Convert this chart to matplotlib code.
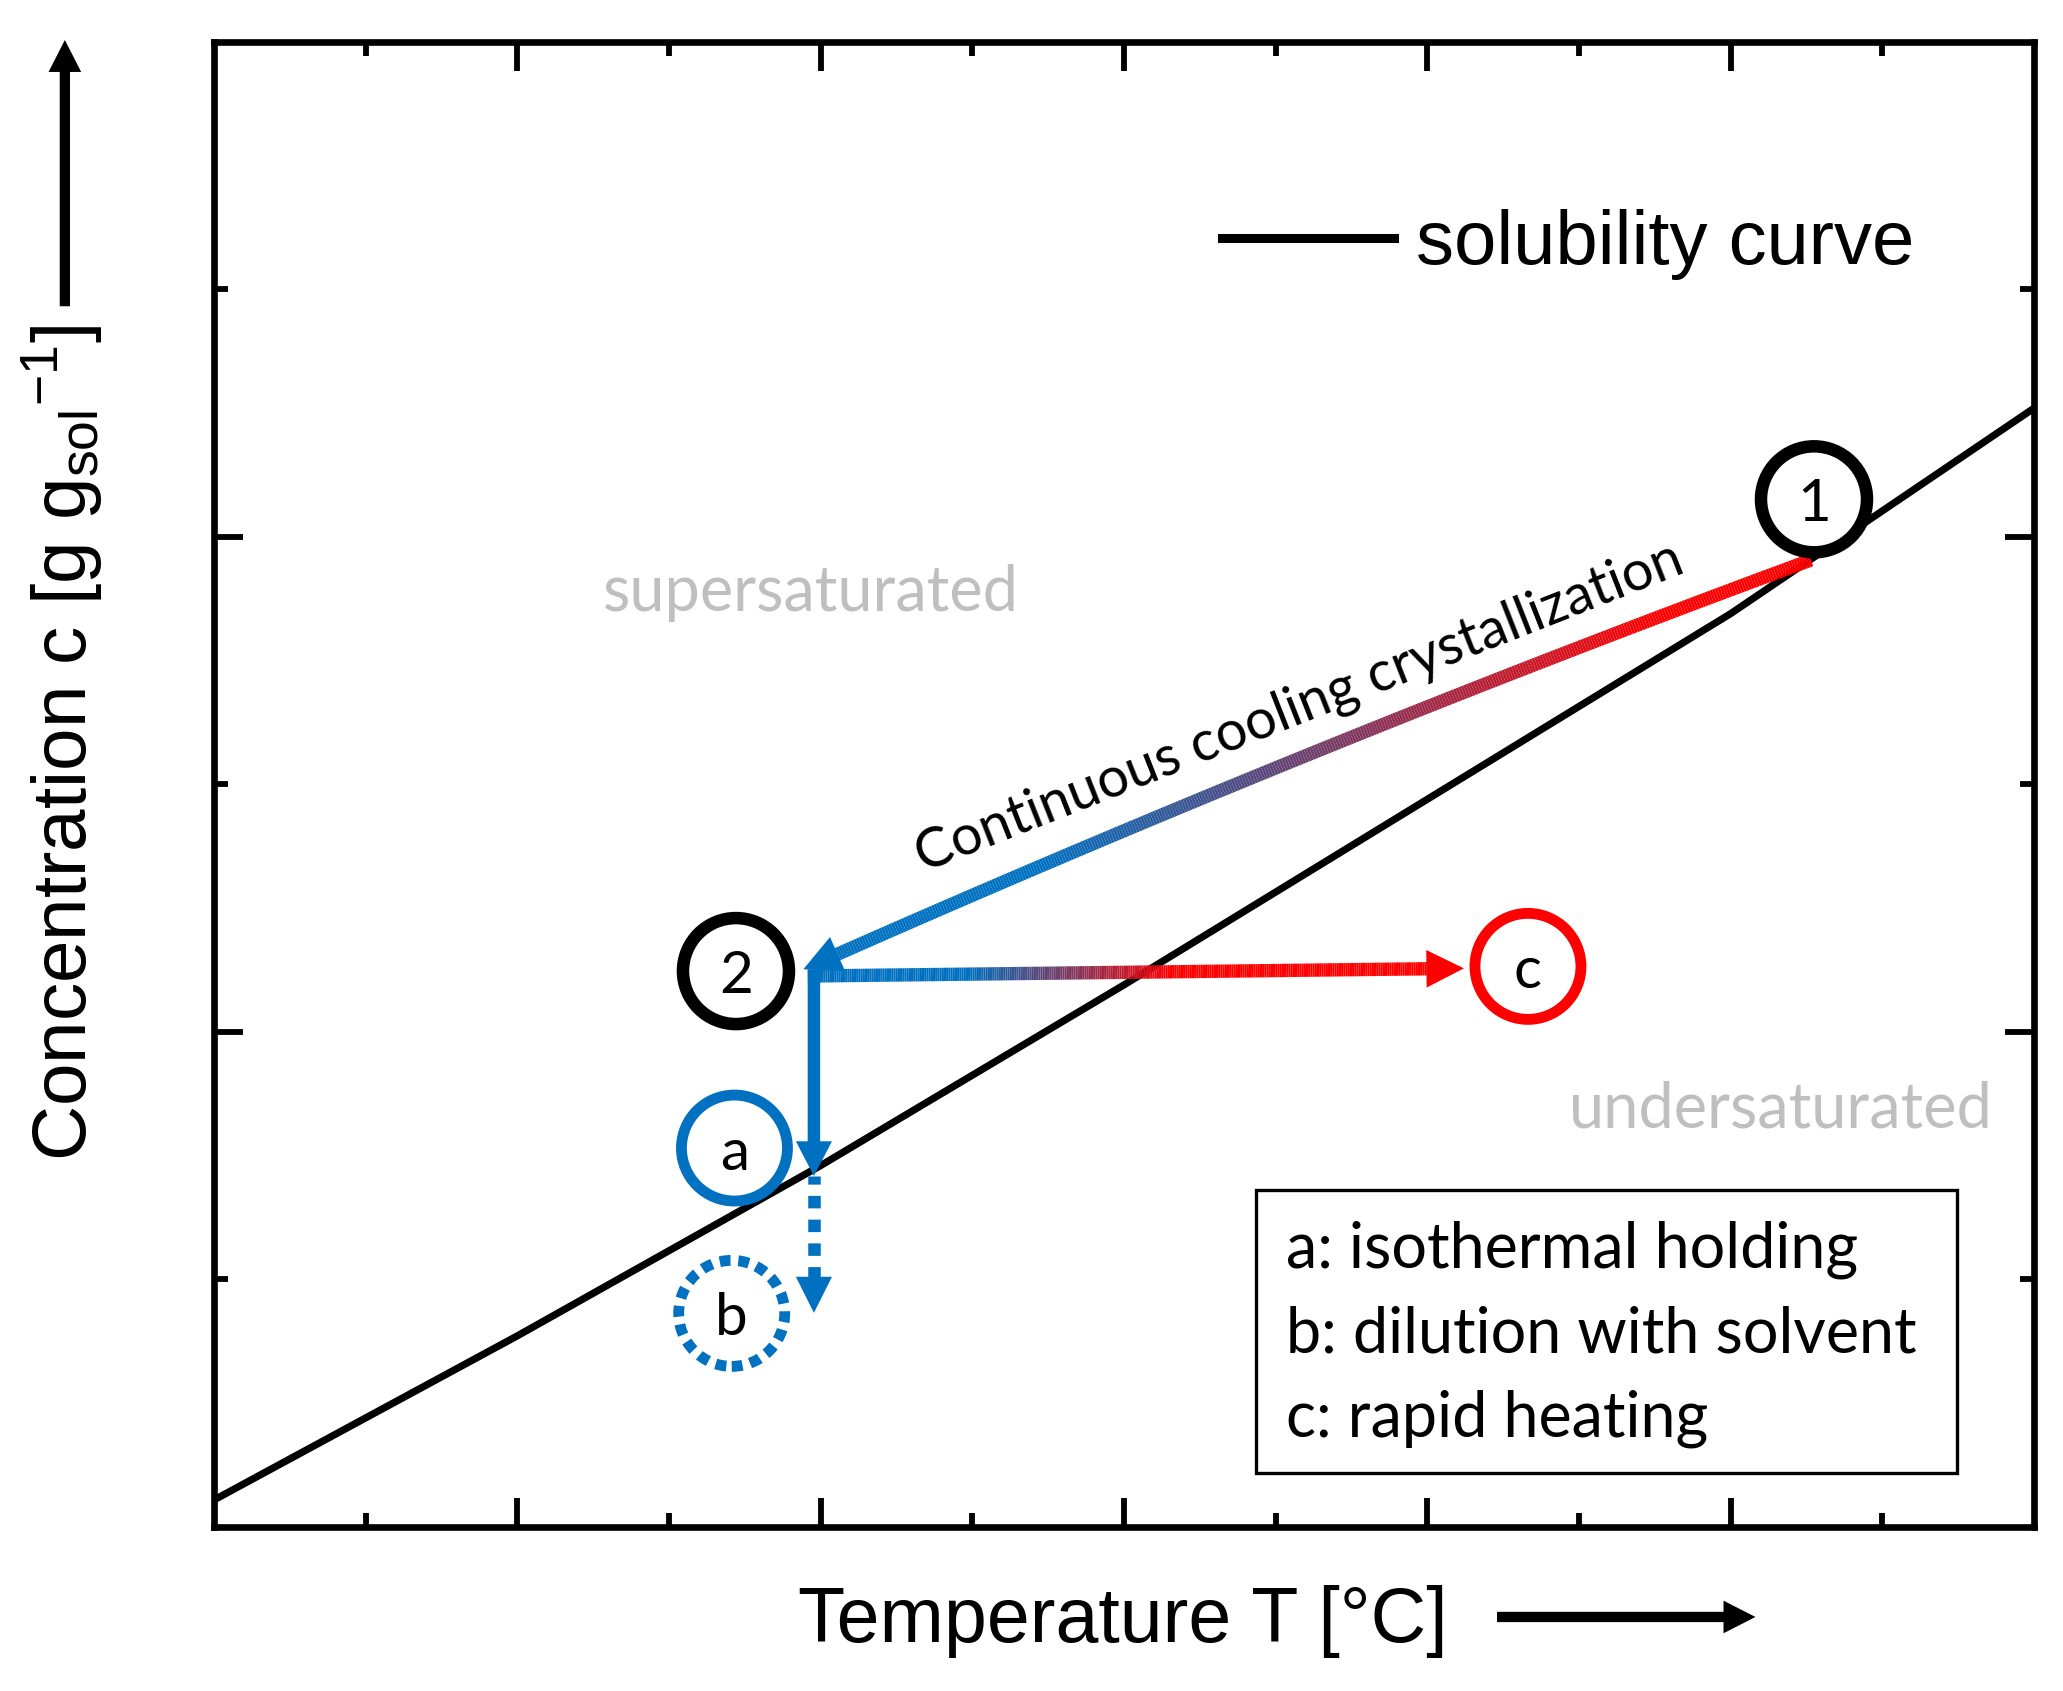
import numpy as np
import matplotlib.pyplot as plt
from matplotlib.collections import LineCollection
from matplotlib.colors import LinearSegmentedColormap
from matplotlib.patches import Circle, Rectangle, FancyArrowPatch
from matplotlib.transforms import ScaledTranslation

plt.rcParams['font.family'] = ['Liberation Sans', 'DejaVu Sans']
plt.rcParams['mathtext.default'] = 'regular'

BLUE = '#0070C0'
RED = '#FF0000'
CAL = ['Lato', 'DejaVu Sans']   # stand-in for Calibri

# solubility curve (arbitrary units)
sol_T = [0.0, 1.0, 2.0, 3.0, 4.0, 5.0, 6.0]
sol_c = [0.109, 0.772, 1.46, 2.19, 2.94, 3.69, 4.52]

# state points
state_names = ['1', '2', 'a', 'b', 'c']
state_T = [5.275, 1.721, 1.716, 1.707, 4.332]
state_c = [4.152, 2.246, 1.531, 0.863, 2.265]
state_colors = ['black', 'black', BLUE, BLUE, RED]
state_dotted = [False, False, False, True, False]

# process paths
cool_T = [5.265, 3.59, 1.943]     # start, bend, end (1 -> 2)
cool_c = [3.907, 3.15, 2.253]
heat_T = [1.958, 4.121]           # 2 -> c
heat_c = [2.226, 2.257]
hold_T = [1.978, 1.978]           # 2 -> a
hold_c = [2.25, 1.418]
dilute_T = [1.978, 1.978]         # a -> b
dilute_c = [1.418, 0.865]

box_lines = ['a: isothermal holding', 'b: dilution with solvent', 'c: rapid heating']

fig = plt.figure(figsize=(20.63, 16.91), dpi=100)
ax = fig.add_axes([0.1037, 0.0970, 0.8822, 0.8782])
ax.set_xlim(0, 6)
ax.set_ylim(0, 6)

for s in ax.spines.values():
    s.set_linewidth(4.8)
ax.set_xticks([1, 2, 3, 4, 5])
ax.set_xticks(np.arange(0.5, 6, 1.0), minor=True)
ax.set_yticks([2, 4])
ax.set_yticks([1, 3, 5], minor=True)
ax.tick_params(which='both', direction='in', top=True, right=True,
               labelbottom=False, labelleft=False, width=4.2)
ax.tick_params(which='major', length=21)
ax.tick_params(which='minor', length=10)

ax.set_xlabel('Temperature T [°C]', fontsize=55.5, va='baseline')
ax.xaxis.set_label_coords(0.4995, -0.0774)
ax.set_ylabel(r'Concentration c [g g$_{sol}$$^{-1}$]', fontsize=55, va='baseline')
ax.yaxis.set_label_coords(-0.0698, 0.528)

# direction arrows next to the axis labels
ax_arrow = dict(arrowstyle='simple,head_length=23,head_width=23.5,tail_width=7.4',
                mutation_scale=1, fc='black', ec='none', lw=0, shrinkA=0, shrinkB=0)
ax.annotate('', xy=(0.847, -0.0606), xytext=(0.705, -0.0606), xycoords='axes fraction',
            arrowprops=ax_arrow, annotation_clip=False)
ax.annotate('', xy=(-0.0819, 1.0013), xytext=(-0.0819, 0.822), xycoords='axes fraction',
            arrowprops=ax_arrow, annotation_clip=False)

# solubility curve + legend
ax.plot(sol_T, sol_c, color='black', lw=5.2, label='solubility curve', zorder=2)
leg = ax.legend(loc='center left', bbox_to_anchor=(0.5538, 0.8633), frameon=False,
                borderpad=0, borderaxespad=0, handlelength=2.26, handletextpad=0.3,
                prop={'family': 'Liberation Sans', 'size': 54.7})
leg.get_lines()[0].set_linewidth(6.5)


def trim(T, c, px):
    # points of a path, minus its last px pixels
    xy = ax.transData.transform(np.column_stack([T, c]))
    d = np.r_[0, np.cumsum(np.hypot(*np.diff(xy, axis=0).T))]
    keep = d <= d[-1] - px
    return np.asarray(T)[keep], np.asarray(c)[keep]


def gradient_line(T, c, cmap, lw=9.6):
    pts = np.column_stack([T, c]).reshape(-1, 1, 2)
    segs = np.concatenate([pts[:-1], pts[1:]], axis=1)
    lc = LineCollection(segs, cmap=cmap, linewidths=lw, capstyle='butt', zorder=4)
    lc.set_array(np.linspace(0, 1, len(segs)))
    lc.set_clim(0, 1)
    ax.add_collection(lc)


def head(p0, p1, color, hl=25, hw=24):
    ax.add_patch(FancyArrowPatch(p0, p1, arrowstyle=f'-|>,head_length={hl},head_width={hw / 2}',
                                 mutation_scale=1, fc=color, ec='none', lw=0,
                                 shrinkA=0, shrinkB=0, zorder=5))


# 1 -> 2: continuous cooling (slightly bent, red to blue)
t = np.linspace(0, 1, 400)
bT = (1 - t) ** 2 * cool_T[0] + 2 * (1 - t) * t * cool_T[1] + t ** 2 * cool_T[2]
bc = (1 - t) ** 2 * cool_c[0] + 2 * (1 - t) * t * cool_c[1] + t ** 2 * cool_c[2]
cool_cmap = LinearSegmentedColormap.from_list('cool', [(0, RED), (0.15, RED), (0.78, BLUE), (1, BLUE)])
gT, gc = trim(bT, bc, 22)
gradient_line(gT, gc, cool_cmap)
hT, hc = trim(bT, bc, 60)
head((hT[-1], hc[-1]), (bT[-1], bc[-1]), BLUE, hl=27, hw=27)

# 2 -> c: rapid heating (blue to red)
lT = np.linspace(heat_T[0], heat_T[1], 300)
lc_ = np.linspace(heat_c[0], heat_c[1], 300)
heat_cmap = LinearSegmentedColormap.from_list('heat', [(0, BLUE), (0.25, BLUE), (0.58, RED), (1, RED)])
gT, gc = trim(lT, lc_, 22)
gradient_line(gT, gc, heat_cmap)
hT, hc = trim(lT, lc_, 60)
head((hT[-1], hc[-1]), (heat_T[1], heat_c[1]), RED, hl=27, hw=27)

# 2 -> a: isothermal holding
ax.add_patch(FancyArrowPatch((hold_T[0], hold_c[0]), (hold_T[1], hold_c[1]),
                             arrowstyle='simple,head_length=25,head_width=26,tail_width=9',
                             mutation_scale=1, fc=BLUE, ec='none', lw=0,
                             shrinkA=0, shrinkB=0, zorder=5))

# a -> b: dilution (dotted)
dT = np.linspace(dilute_T[0], dilute_T[1], 200)
dc = np.linspace(dilute_c[0], dilute_c[1], 200)
sT, sc = trim(dT, dc, 30)
ax.plot(sT, sc, color=BLUE, lw=9, linestyle=(0.35, (1, 0.9)),
        dash_capstyle='butt', zorder=4)
hT, hc = trim(dT, dc, 70)
head((hT[-1], hc[-1]), (dilute_T[1], dilute_c[1]), BLUE, hl=26, hw=26)

# state circles (round on screen, so sized in inches)
for name, T, c, col, dotted in zip(state_names, state_T, state_c, state_colors, state_dotted):
    tr = fig.dpi_scale_trans + ScaledTranslation(T, c, ax.transData)
    lw = 9 if col == 'black' else 7.8
    circ = Circle((0, 0), 0.53, transform=tr, fc='white', ec=col, lw=lw, zorder=6,
                  linestyle=(0, (1, 0.72)) if dotted else '-')
    if dotted:
        circ.set_capstyle('butt')
    ax.add_patch(circ)
    ax.text(T, c, name, ha='center', va='center_baseline', family=CAL, fontsize=42, zorder=7)

ax.text(3.597, 3.253, 'Continuous cooling crystallization', rotation=21.5,
        rotation_mode='anchor', ha='center', va='baseline', family=CAL, fontsize=40, zorder=6)
ax.text(1.968, 3.70, 'supersaturated', ha='center', va='baseline', family=CAL,
        fontsize=45.4, color='#BFBFBF')
ax.text(5.165, 1.616, 'undersaturated', ha='center', va='baseline', family=CAL,
        fontsize=45.4, color='#BFBFBF')

# explanation box
ax.add_patch(Rectangle((0.5725, 0.0364), 0.3852, 0.1905, transform=ax.transAxes,
                       fc='white', ec='black', lw=2.4, zorder=3))
for line, yb in zip(box_lines, [0.1744, 0.1172, 0.0606]):
    ax.text(0.589, yb, line, transform=ax.transAxes, ha='left', va='baseline',
            family=CAL, fontsize=45.3, zorder=4)

fig.savefig('out.png', dpi=100)
